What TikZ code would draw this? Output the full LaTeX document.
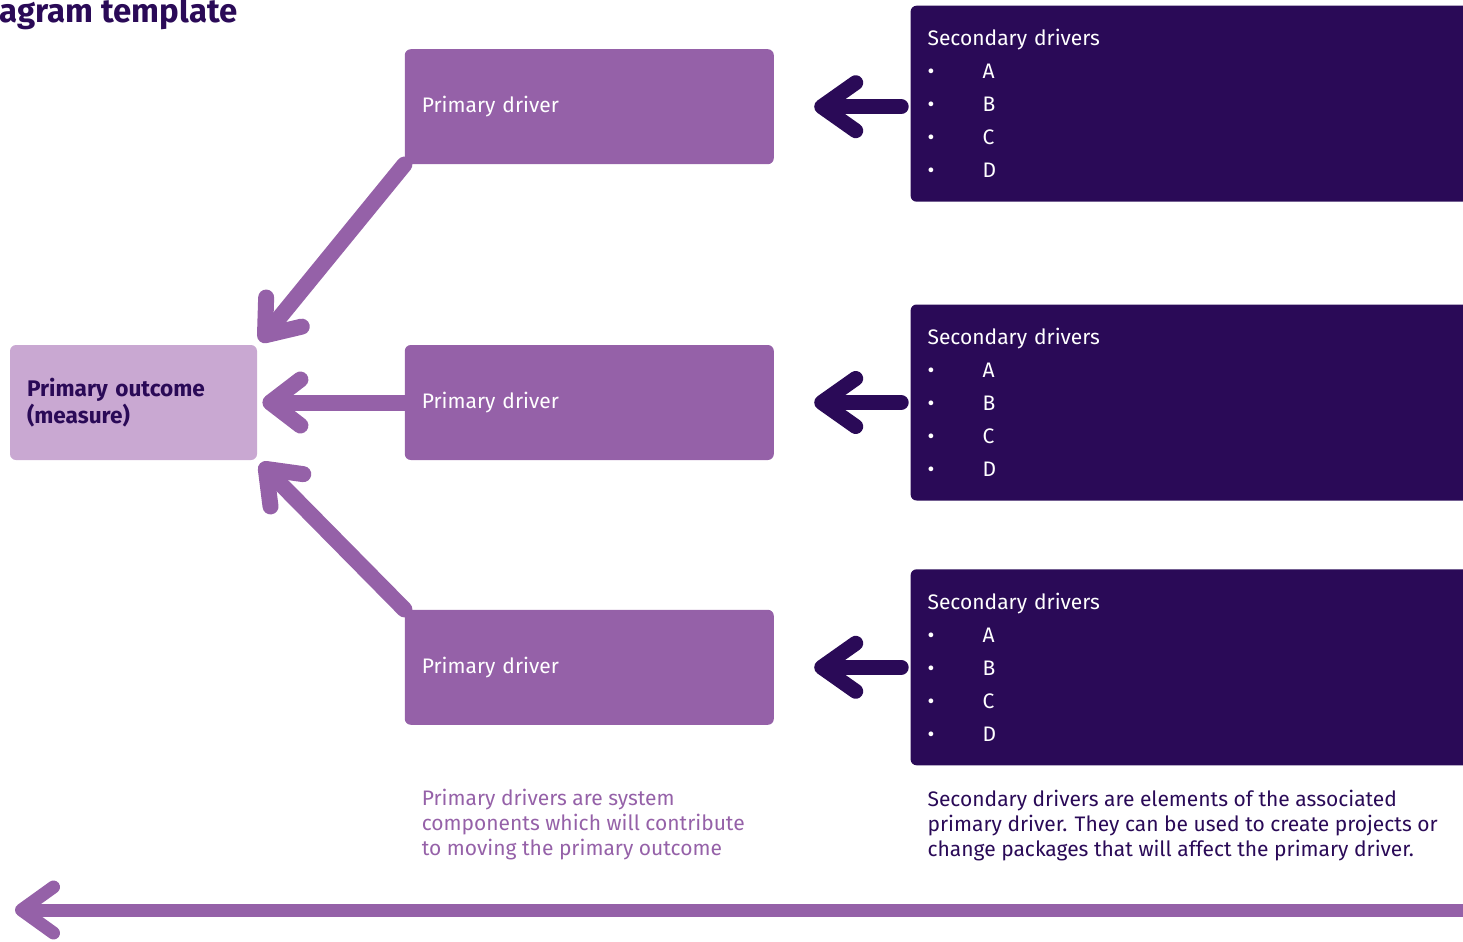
\documentclass[tikz,border=0pt]{standalone}
\usepackage{fontspec}
\setmainfont{Fira Sans}
\usepackage{xcolor}
\definecolor{drvpurple}{RGB}{149,97,168}
\definecolor{outlilac}{RGB}{201,168,210}
\definecolor{secnavy}{RGB}{42,10,87}
\usetikzlibrary{arrows.meta, positioning}
\tikzset{
  outbox/.style={
    rectangle, fill=outlilac, text=secnavy,
    minimum width=123.5pt, minimum height=57.5pt, text width=106.5pt,
    inner xsep=8.5pt, align=left, rounded corners=3pt,
    font=\fontsize{11.3}{12}\selectfont\bfseries},
  pribox/.style={
    rectangle, fill=drvpurple, text=white,
    minimum width=184.5pt, minimum height=57.5pt, text width=167.5pt,
    inner xsep=8.5pt, align=left, rounded corners=3pt,
    font=\fontsize{10.5}{12}\selectfont},
  secbox/.style={
    rectangle, fill=secnavy, text=white,
    minimum width=300pt, minimum height=98pt, text width=283pt,
    inner xsep=8.5pt, align=left, rounded corners=3pt,
    font=\fontsize{10.5}{16.5}\selectfont},
  note/.style={
    inner sep=0pt, align=left, font=\fontsize{10.5}{12.5}\selectfont},
  parr/.style={-{Straight Barb[round, length=15pt, width=23pt]},
    line width=8pt, line cap=round, drvpurple},
  sarr/.style={-{Straight Barb[round, length=17pt, width=24pt]},
    line width=7.5pt, line cap=round, secnavy},
  barr/.style={-{Straight Barb[round, length=16pt, width=23pt]},
    line width=6.5pt, line cap=round, drvpurple},
}
\newcommand{\secitem}[1]{\makebox[27.5pt][l]{\textbullet}#1}

\begin{document}
\begin{tikzpicture}[x=0.5pt, y=-0.5pt]
  \clip (0,0) rectangle (1463,942);
  \node[anchor=base east, inner sep=0pt, text=secnavy,
        font=\fontsize{16.5}{18}\selectfont\bfseries] (title) at (238,22)
    {agram template};

  \node[outbox] (outc) at (133.5,402.5) {Primary outcome\\(measure)};
  \node[pribox, right=73.5pt of outc] (pd2) {Primary driver};
  \node[pribox, above=90pt of pd2] (pd1) {Primary driver};
  \node[pribox, below=74.5pt of pd2] (pd3) {Primary driver};

  \node[secbox, right=68pt of pd1, yshift=1.5pt] (sd1)
    {Secondary drivers\\\secitem{A}\\\secitem{B}\\\secitem{C}\\\secitem{D}};
  \node[secbox, right=68pt of pd2] (sd2)
    {Secondary drivers\\\secitem{A}\\\secitem{B}\\\secitem{C}\\\secitem{D}};
  \node[secbox, right=68pt of pd3] (sd3)
    {Secondary drivers\\\secitem{A}\\\secitem{B}\\\secitem{C}\\\secitem{D}};

  \node[note, text=drvpurple, below right=32pt and 8.5pt of pd3.south west] (pnote)
    {Primary drivers are system\\components which will contribute\\to moving the primary outcome};
  \node[note, text=secnavy, below right=12pt and 8.5pt of sd3.south west] (snote)
    {Secondary drivers are elements of the associated\\primary driver. They can be used to create projects or\\change packages that will affect the primary driver.};

  % secondary -> primary
  \draw[sarr, shorten <=4.5pt, shorten >=20pt] (sd1.west |- pd1.east) -- (pd1.east);
  \draw[sarr, shorten <=4.5pt, shorten >=20pt] (sd2.west) -- (pd2.east);
  \draw[sarr, shorten <=4.5pt, shorten >=20pt] (sd3.west) -- (pd3.east);

  % primary -> outcome
  \draw[parr, shorten >=2pt] (pd1.south west) -- (outc.north east);
  \draw[parr, shorten >=2.5pt] (pd2.west) -- (outc.east);
  \draw[parr, shorten >=2pt] (pd3.north west) -- (outc.south east);

  \coordinate (lineR) at (1480,910);
  \coordinate (lineL) at (15,910);
  \draw[barr] (lineR) -- (lineL);
\end{tikzpicture}
\end{document}
